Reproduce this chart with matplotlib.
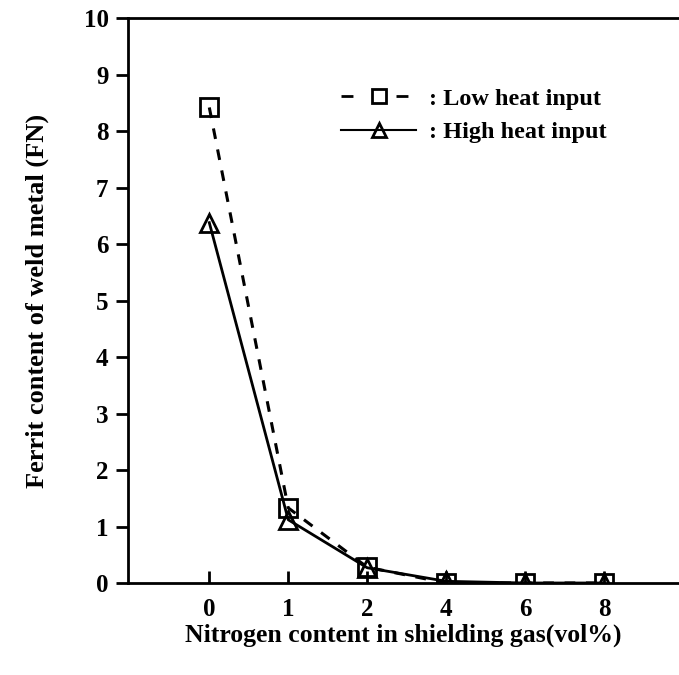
import numpy as np
import matplotlib
matplotlib.use("Agg")
import matplotlib.pyplot as plt
from matplotlib.lines import Line2D

# data
nitrogen = ["0", "1", "2", "4", "6", "8"]
low_heat = [8.42, 1.33, 0.28, 0.0, 0.0, 0.0]
high_heat = [6.38, 1.12, 0.27, 0.03, 0.0, 0.0]
y_ticks = list(range(0, 11))

plt.rcParams['font.family'] = ['Liberation Serif', 'DejaVu Serif']
plt.rcParams['font.weight'] = 'bold'

fig = plt.figure(figsize=(6.79, 6.75), dpi=100)
ax = fig.add_axes([0.1885, 0.1363, 0.8115, 0.8367])

x = np.arange(len(nitrogen))
ax.plot(x, low_heat, color='black', linestyle=(0, (3.5, 3.5)), linewidth=2.2,
        marker='s', markersize=12.5, markerfacecolor='none', markeredgewidth=2.0, zorder=3)
ax.plot(x, high_heat, color='black', linestyle='-', linewidth=2.0,
        marker='^', markersize=12.5, markerfacecolor='none', markeredgewidth=2.0, zorder=3)

ax.set_xlim(-1.03, 5.95)
ax.set_ylim(0, 10)
ax.set_xticks(x)
ax.set_xticklabels(nitrogen)
ax.set_yticks(y_ticks)

ax.spines['right'].set_visible(False)
for s in ['left', 'top', 'bottom']:
    ax.spines[s].set_linewidth(2.0)

ax.tick_params(axis='x', direction='in', length=9, width=2, labelsize=18, pad=11)
ax.tick_params(axis='y', direction='out', length=9, width=2, labelsize=18, pad=5)

ax.set_xlabel('Nitrogen content in shielding gas(vol%)', fontsize=18.5, fontweight='bold', labelpad=2)
ax.set_ylabel('Ferrit content of weld metal (FN)', fontsize=19, fontweight='bold', labelpad=25)

handles = [
    Line2D([], [], color='black', linestyle=(0, (4.3, 15.5)), linewidth=2.0, marker='s',
           markersize=10, markerfacecolor='none', markeredgewidth=2.0),
    Line2D([], [], color='black', linestyle='-', linewidth=1.5, marker='^',
           markersize=10, markerfacecolor='none', markeredgewidth=2.0),
]
ax.legend(handles, [': Low heat input', ': High heat input'], loc='upper left',
          bbox_to_anchor=(0.347, 0.916), frameon=False, fontsize=17.5, handlelength=3.1,
          handletextpad=0.5, labelspacing=0.48)

fig.savefig('out.png', dpi=100)
